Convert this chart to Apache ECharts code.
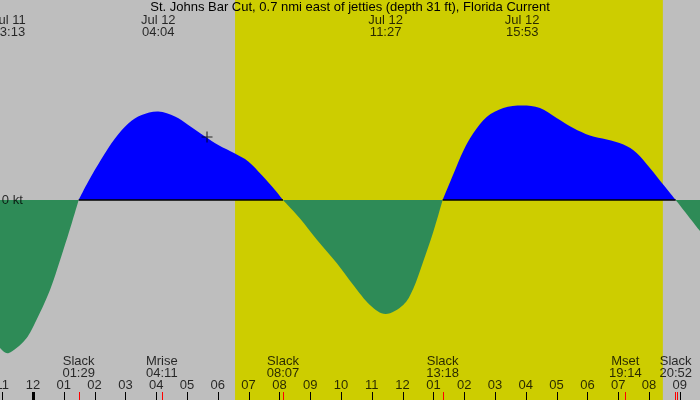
<!DOCTYPE html>
<html>
<head>
<meta charset="utf-8">
<script src="https://cdn.jsdelivr.net/npm/echarts@6/dist/echarts.min.js"></script>
<style>
  html, body { margin: 0; padding: 0; background: #bebebe; }
</style>
</head>
<body>
<div id="main" style="width: 700px; height: 400px"></div>
<script>
// hours since Jul 12 00:00, current in knots (+ flood, - ebb)
var hours = [-1.071, -0.783, -0.26, 0.065, 0.552, 0.985, 1.256, 1.483,
  1.795, 2.231, 2.662, 3.094, 3.529, 4.067, 4.61, 5.042, 5.584, 6.016, 6.558, 6.99, 7.425, 7.857, 8.117,
  8.669, 9.211, 9.86, 10.4, 10.94, 11.45, 12.02, 12.35, 12.67, 13.0, 13.3,
  13.65, 13.97, 14.3, 14.73, 15.27, 15.883, 16.46, 17.0, 17.54, 18.08, 18.63, 19.17, 19.6, 20.03, 20.46, 20.867,
  21.656];
var knots = [-2.96, -3.06, -2.8, -2.46, -1.8, -1.0, -0.47, 0,
  0.37, 0.83, 1.23, 1.53, 1.7, 1.77, 1.67, 1.5, 1.27, 1.1, 0.93, 0.77, 0.5, 0.2, 0,
  -0.37, -0.79, -1.26, -1.7, -2.1, -2.28, -2.1, -1.77, -1.23, -0.63, 0,
  0.52, 0.98, 1.34, 1.66, 1.84, 1.89, 1.84, 1.64, 1.44, 1.29, 1.21, 1.11, 0.94, 0.64, 0.31, 0,
  -0.62];

var sunrise = 6.56, sunset = 20.45;

var topHours = [-0.783, 4.067, 11.45, 15.883];
var topLabels = ["Jul 11\n23:13", "Jul 12\n04:04", "Jul 12\n11:27", "Jul 12\n15:53"];

var eventHours = [1.483, 4.183, 8.117, 13.3, 19.233, 20.867];
var eventLabels = ["Slack\n01:29", "Mrise\n04:11", "Slack\n08:07", "Slack\n13:18", "Mset\n19:14", "Slack\n20:52"];
var redTicks = [1.483, 4.183, 8.117, 13.3, 19.233, 20.83, 20.9];

var tickHours = [-1, 0, 1, 2, 3, 4, 5, 6, 7, 8, 9, 10, 11, 12, 13, 14, 15, 16, 17, 18, 19, 20, 21];
var tickLabels = ["11", "12", "01", "02", "03", "04", "05", "06", "07", "08", "09", "10",
  "11", "12", "01", "02", "03", "04", "05", "06", "07", "08", "09"];

var nowHour = 5.65, nowKnots = 1.26;

var xMin = -1.071, xMax = 21.656;
var font = "Liberation Sans";

// split the curve into flood / ebb lobes at the slack points
var lobes = [];
var cur = [[hours[0], knots[0]]];
for (var i = 1; i < hours.length; i++) {
  cur.push([hours[i], knots[i]]);
  if (knots[i] === 0) {
    lobes.push(cur);
    cur = [[hours[i], 0]];
  }
}
if (cur.length > 1) lobes.push(cur);

// smooth filled lobe: catmull-rom through the points, closed on the zero line
function lobePath(pts, base) {
  var d = "M" + pts[0][0] + " " + base + "L" + pts[0][0] + " " + pts[0][1];
  for (var i = 0; i < pts.length - 1; i++) {
    var p0 = pts[Math.max(i - 1, 0)], p1 = pts[i], p2 = pts[i + 1], p3 = pts[Math.min(i + 2, pts.length - 1)];
    var c1x = p1[0] + (p2[0] - p0[0]) / 6, c1y = p1[1] + (p2[1] - p0[1]) / 6;
    var c2x = p2[0] - (p3[0] - p1[0]) / 6, c2y = p2[1] - (p3[1] - p1[1]) / 6;
    d += "C" + c1x + " " + c1y + " " + c2x + " " + c2y + " " + p2[0] + " " + p2[1];
  }
  d += "L" + pts[pts.length - 1][0] + " " + base + "Z";
  return d;
}

var series = [];

series.push({
  type: "custom",
  z: 0,
  silent: true,
  data: [[sunrise, sunset]],
  renderItem: function (params, api) {
    var a = api.coord([api.value(0), 4]);
    var b = api.coord([api.value(1), -4]);
    return { type: "rect", shape: { x: a[0], y: a[1], width: b[0] - a[0], height: b[1] - a[1] },
      style: { fill: "#cdcd00" } };
  },
});

series.push({
  type: "custom",
  z: 2,
  silent: true,
  data: lobes.map(function (l, k) { return [l[0][0], l[0][1], k]; }),
  renderItem: function (params, api) {
    var lobe = lobes[api.value(2)];
    var flood = lobe.some(function (p) { return p[1] > 0; });
    var pts = lobe.map(function (p) { return api.coord(p); });
    var base = api.coord([0, 0])[1];
    return { type: "path", shape: { pathData: lobePath(pts, base) },
      style: { fill: flood ? "#0000ff" : "#2e8b57" } };
  },
});

lobes.forEach(function (lobe) {
  if (lobe.some(function (p) { return p[1] > 0; })) {
    series.push({
      type: "line",
      z: 3,
      symbol: "none",
      silent: true,
      data: [[lobe[0][0], 0], [lobe[lobe.length - 1][0], 0]],
      lineStyle: { color: "#000", width: 1.3 },
    });
  }
});

function tickSeries(list, color, z) {
  return {
    type: "custom",
    z: z,
    silent: true,
    data: list.map(function (h) { return [h, h === 0 && color === "#000" ? 3 : 1]; }),
    renderItem: function (params, api) {
      var p = api.coord([api.value(0), -4]);
      var w = api.value(1);
      return { type: "rect", shape: { x: Math.round(p[0]) - Math.floor(w / 2), y: p[1] - 8, width: w, height: 8 },
        style: { fill: color } };
    },
  };
}
series.push(tickSeries(tickHours, "#000", 4));
series.push(tickSeries(redTicks, "#ff0000", 5));

function textSeries(xs, y, texts, pos) {
  return {
    type: "scatter",
    z: 6,
    silent: true,
    symbolSize: 0,
    data: xs.map(function (x, i) { return [x, y, texts[i]]; }),
    label: {
      show: true,
      position: pos || "inside",
      distance: 0,
      color: "#000",
      fontFamily: font,
      fontSize: 13,
      lineHeight: 12,
      formatter: function (p) { return p.value[2]; },
    },
  };
}

series.push(textSeries(topHours, 3.47, topLabels));
series.push(textSeries(eventHours, -3.355, eventLabels));
series.push(textSeries(tickHours, -3.71, tickLabels));
series.push(textSeries([xMin + 0.06], -0.01, ["0 kt"], "right"));

series.push({
  type: "scatter",
  z: 7,
  silent: true,
  symbol: "path://M4.5,0H5.5V4.5H10V5.5H5.5V10H4.5V5.5H0V4.5H4.5Z",
  symbolSize: 11,
  itemStyle: { color: "#000" },
  data: [[nowHour, nowKnots]],
});

var myChart = echarts.init(document.getElementById("main"));
var option = {
  animation: false,
  backgroundColor: "#bebebe",
  title: {
    text: "St. Johns Bar Cut, 0.7 nmi east of jetties (depth 31 ft), Florida Current",
    left: "center",
    top: 1,
    padding: 0,
    textStyle: { color: "#000", fontFamily: font, fontSize: 13, fontWeight: "normal" },
  },
  grid: { left: 0, right: 0, top: 0, bottom: 0 },
  xAxis: { type: "value", min: xMin, max: xMax, show: false },
  yAxis: { type: "value", min: -4, max: 4, show: false },
  series: series,
};
myChart.setOption(option);
</script>
</body>
</html>
